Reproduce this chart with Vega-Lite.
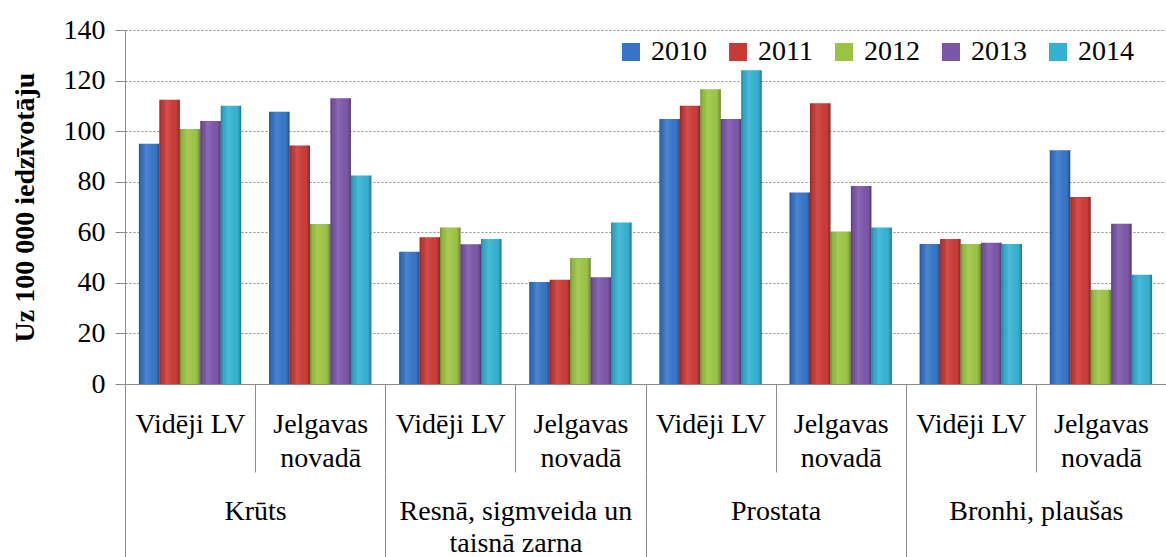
{
  "$schema": "https://vega.github.io/schema/vega-lite/v6.json",
  "width": 1041,
  "height": 354,
  "autosize": {"type": "none"},
  "padding": {"left": 125, "top": 30, "right": 0, "bottom": 173},
  "background": "white",
  "config": {"view": {"stroke": null}, "font": "Liberation Serif"},
  "data": {"values": [
    {"cat": "Krūts", "grp": "Krūts|Vidēji LV", "year": "2010", "value": 95},
    {"cat": "Krūts", "grp": "Krūts|Vidēji LV", "year": "2011", "value": 112.4},
    {"cat": "Krūts", "grp": "Krūts|Vidēji LV", "year": "2012", "value": 100.8},
    {"cat": "Krūts", "grp": "Krūts|Vidēji LV", "year": "2013", "value": 104},
    {"cat": "Krūts", "grp": "Krūts|Vidēji LV", "year": "2014", "value": 110},
    {"cat": "Krūts", "grp": "Krūts|Jelgavas|novadā", "year": "2010", "value": 107.7},
    {"cat": "Krūts", "grp": "Krūts|Jelgavas|novadā", "year": "2011", "value": 94.3},
    {"cat": "Krūts", "grp": "Krūts|Jelgavas|novadā", "year": "2012", "value": 63.3},
    {"cat": "Krūts", "grp": "Krūts|Jelgavas|novadā", "year": "2013", "value": 113},
    {"cat": "Krūts", "grp": "Krūts|Jelgavas|novadā", "year": "2014", "value": 82.5},
    {"cat": "Resnā, sigmveida un|taisnā zarna", "grp": "Resnā|Vidēji LV", "year": "2010", "value": 52.3},
    {"cat": "Resnā, sigmveida un|taisnā zarna", "grp": "Resnā|Vidēji LV", "year": "2011", "value": 58},
    {"cat": "Resnā, sigmveida un|taisnā zarna", "grp": "Resnā|Vidēji LV", "year": "2012", "value": 61.9},
    {"cat": "Resnā, sigmveida un|taisnā zarna", "grp": "Resnā|Vidēji LV", "year": "2013", "value": 55.3},
    {"cat": "Resnā, sigmveida un|taisnā zarna", "grp": "Resnā|Vidēji LV", "year": "2014", "value": 57.3},
    {"cat": "Resnā, sigmveida un|taisnā zarna", "grp": "Resnā|Jelgavas|novadā", "year": "2010", "value": 40.3},
    {"cat": "Resnā, sigmveida un|taisnā zarna", "grp": "Resnā|Jelgavas|novadā", "year": "2011", "value": 41.2},
    {"cat": "Resnā, sigmveida un|taisnā zarna", "grp": "Resnā|Jelgavas|novadā", "year": "2012", "value": 49.8},
    {"cat": "Resnā, sigmveida un|taisnā zarna", "grp": "Resnā|Jelgavas|novadā", "year": "2013", "value": 42.2},
    {"cat": "Resnā, sigmveida un|taisnā zarna", "grp": "Resnā|Jelgavas|novadā", "year": "2014", "value": 63.9},
    {"cat": "Prostata", "grp": "Prostata|Vidēji LV", "year": "2010", "value": 104.8},
    {"cat": "Prostata", "grp": "Prostata|Vidēji LV", "year": "2011", "value": 110},
    {"cat": "Prostata", "grp": "Prostata|Vidēji LV", "year": "2012", "value": 116.6},
    {"cat": "Prostata", "grp": "Prostata|Vidēji LV", "year": "2013", "value": 104.8},
    {"cat": "Prostata", "grp": "Prostata|Vidēji LV", "year": "2014", "value": 124.1},
    {"cat": "Prostata", "grp": "Prostata|Jelgavas|novadā", "year": "2010", "value": 75.7},
    {"cat": "Prostata", "grp": "Prostata|Jelgavas|novadā", "year": "2011", "value": 111},
    {"cat": "Prostata", "grp": "Prostata|Jelgavas|novadā", "year": "2012", "value": 60.3},
    {"cat": "Prostata", "grp": "Prostata|Jelgavas|novadā", "year": "2013", "value": 78.3},
    {"cat": "Prostata", "grp": "Prostata|Jelgavas|novadā", "year": "2014", "value": 61.9},
    {"cat": "Bronhi, plaušas", "grp": "Bronhi|Vidēji LV", "year": "2010", "value": 55.4},
    {"cat": "Bronhi, plaušas", "grp": "Bronhi|Vidēji LV", "year": "2011", "value": 57.3},
    {"cat": "Bronhi, plaušas", "grp": "Bronhi|Vidēji LV", "year": "2012", "value": 55.4},
    {"cat": "Bronhi, plaušas", "grp": "Bronhi|Vidēji LV", "year": "2013", "value": 55.9},
    {"cat": "Bronhi, plaušas", "grp": "Bronhi|Vidēji LV", "year": "2014", "value": 55.4},
    {"cat": "Bronhi, plaušas", "grp": "Bronhi|Jelgavas|novadā", "year": "2010", "value": 92.4},
    {"cat": "Bronhi, plaušas", "grp": "Bronhi|Jelgavas|novadā", "year": "2011", "value": 74},
    {"cat": "Bronhi, plaušas", "grp": "Bronhi|Jelgavas|novadā", "year": "2012", "value": 37.3},
    {"cat": "Bronhi, plaušas", "grp": "Bronhi|Jelgavas|novadā", "year": "2013", "value": 63.4},
    {"cat": "Bronhi, plaušas", "grp": "Bronhi|Jelgavas|novadā", "year": "2014", "value": 43.2}
  ]},
  "layer": [
    {
      "encoding": {
        "x": {
          "field": "grp", "type": "nominal", "sort": null,
          "scale": {"paddingInner": 0, "paddingOuter": 0},
          "axis": {
            "title": null, "orient": "bottom",
            "domainColor": "#8c8c8c", "tickColor": "#8c8c8c",
            "tickBand": "extent", "tickSize": 88,
            "labelExpr": "slice(split(datum.label, '|'), 1)",
            "labelFont": "Liberation Serif", "labelFontSize": 28, "labelColor": "black",
            "labelAngle": 0, "labelBaseline": "top", "labelPadding": -62,
            "labelLineHeight": 34, "labelOverlap": false, "labelBound": false, "labelFlush": false, "labelLimit": 0
          }
        },
        "xOffset": {"field": "year", "type": "nominal", "scale": {"paddingOuter": 0.68, "paddingInner": 0}},
        "y": {
          "field": "value", "type": "quantitative",
          "scale": {"domain": [0, 140], "nice": false},
          "axis": {
            "title": "Uz 100 000 iedzīvotāju",
            "titleFont": "Liberation Serif", "titleFontSize": 28, "titleFontWeight": "bold",
            "titleColor": "black", "titlePadding": 24,
            "values": [0, 20, 40, 60, 80, 100, 120, 140],
            "domainColor": "#8c8c8c", "tickColor": "#8c8c8c", "tickSize": 10,
            "labelFont": "Liberation Serif", "labelFontSize": 28, "labelColor": "black", "labelPadding": 10,
            "grid": true, "gridColor": "#8c8c8c", "gridDash": [2, 2]
          }
        }
      },
      "layer": [
        {
          "mark": {"type": "bar"},
          "encoding": {
            "color": {
              "field": "year", "type": "nominal",
              "scale": {"range": ["#3574c6", "#c93936", "#9bc343", "#7b55a8", "#33b1d1"]},
              "legend": {
                "orient": "none", "legendX": 492, "legendY": 8,
                "direction": "horizontal", "title": null,
                "symbolType": "square", "symbolSize": 324, "symbolStrokeWidth": 0, "symbolOpacity": 1,
                "labelFont": "Liberation Serif", "labelFontSize": 28, "labelColor": "black",
                "labelOffset": 6, "columnPadding": 17, "labelLimit": 0
              }
            }
          }
        },
        {
          "mark": {
            "type": "bar",
            "color": {
              "gradient": "linear", "x1": 0, "y1": 0, "x2": 1, "y2": 0,
              "stops": [
                {"offset": 0, "color": "rgba(0,0,0,0.28)"},
                {"offset": 0.12, "color": "rgba(0,0,0,0.05)"},
                {"offset": 0.35, "color": "rgba(255,255,255,0.12)"},
                {"offset": 0.7, "color": "rgba(255,255,255,0.0)"},
                {"offset": 0.9, "color": "rgba(0,0,0,0.12)"},
                {"offset": 1, "color": "rgba(0,0,0,0.35)"}
              ]
            }
          }
        }
      ]
    },
    {
      "mark": {"type": "rule", "opacity": 0},
      "encoding": {
        "x": {
          "field": "cat", "type": "nominal", "sort": null,
          "scale": {"paddingInner": 0, "paddingOuter": 0},
          "axis": {
            "title": null, "orient": "bottom", "offset": 88, "domain": false,
            "tickColor": "#8c8c8c", "tickBand": "extent", "tickSize": 86,
            "labelExpr": "split(datum.label, '|')",
            "labelFont": "Liberation Serif", "labelFontSize": 28, "labelColor": "black",
            "labelAngle": 0, "labelBaseline": "top", "labelPadding": -61,
            "labelLineHeight": 32, "labelOverlap": false, "labelBound": false, "labelFlush": false, "labelLimit": 0
          }
        }
      }
    }
  ],
  "resolve": {"scale": {"x": "independent"}, "axis": {"x": "independent"}}
}
